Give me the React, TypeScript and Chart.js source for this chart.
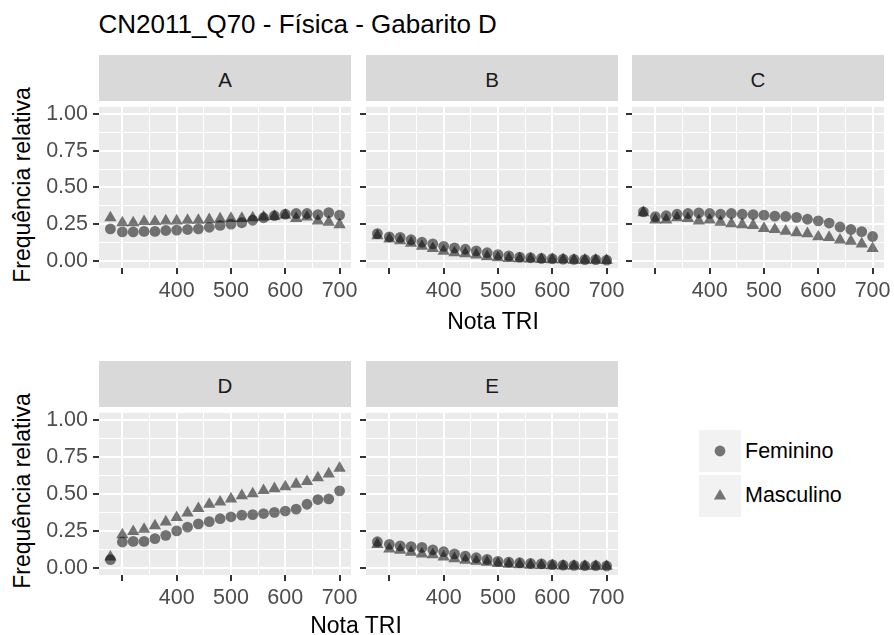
import React, { useEffect, useRef } from "react";
import { Chart, registerables } from "chart.js";

Chart.register(...registerables);

const FONT = '"Liberation Sans", Arial, Helvetica, sans-serif';

// ---------- text ----------
const chartTitle = "CN2011_Q70 - Física - Gabarito D";
const yAxisTitle = "Frequência relativa";
const xAxisTitle = "Nota TRI";
const seriesNames = ["Feminino", "Masculino"];
const panelNames = ["A", "B", "C", "D", "E"];

// ---------- axes ----------
const xGridValues = [300, 350, 400, 450, 500, 550, 600, 650, 700];
const xTickValues = [300, 400, 500, 600, 700];
const xTickLabels = ["", "400", "500", "600", "700"];
const yGridValues = [0, 0.125, 0.25, 0.375, 0.5, 0.625, 0.75, 0.875, 1];
const yTickValues = [0, 0.25, 0.5, 0.75, 1];
const yTickLabels = ["0.00", "0.25", "0.50", "0.75", "1.00"];
const xLimits = [257, 721];
const yLimits = [-0.05, 1.05];

// ---------- data ----------
const notaTRI = [278, 300, 320, 340, 360, 380, 400, 420, 440, 460, 480, 500, 520, 540, 560, 580, 600, 620, 640, 660, 680, 700];

const femininoA = [0.217, 0.196, 0.196, 0.2, 0.2, 0.206, 0.209, 0.213, 0.217, 0.228, 0.241, 0.25, 0.259, 0.276, 0.293, 0.307, 0.317, 0.322, 0.322, 0.315, 0.328, 0.311];
const masculinoA = [0.293, 0.259, 0.259, 0.267, 0.267, 0.272, 0.272, 0.276, 0.276, 0.28, 0.285, 0.289, 0.289, 0.293, 0.298, 0.302, 0.311, 0.289, 0.298, 0.272, 0.263, 0.246];

const femininoB = [0.185, 0.163, 0.159, 0.143, 0.126, 0.115, 0.098, 0.087, 0.078, 0.067, 0.054, 0.041, 0.033, 0.024, 0.02, 0.015, 0.013, 0.011, 0.009, 0.007, 0.007, 0.004];
const masculinoB = [0.17, 0.148, 0.137, 0.12, 0.098, 0.083, 0.065, 0.054, 0.048, 0.039, 0.028, 0.02, 0.015, 0.013, 0.011, 0.009, 0.007, 0.007, 0.004, 0.004, 0.004, 0.002];

const femininoC = [0.333, 0.3, 0.307, 0.317, 0.322, 0.326, 0.322, 0.317, 0.322, 0.317, 0.315, 0.311, 0.304, 0.302, 0.296, 0.283, 0.272, 0.257, 0.23, 0.213, 0.198, 0.165];
const masculinoC = [0.328, 0.278, 0.278, 0.293, 0.289, 0.272, 0.278, 0.263, 0.252, 0.246, 0.241, 0.22, 0.213, 0.202, 0.191, 0.185, 0.163, 0.159, 0.141, 0.133, 0.115, 0.083];

const femininoD = [0.054, 0.174, 0.178, 0.178, 0.197, 0.219, 0.249, 0.275, 0.297, 0.312, 0.332, 0.345, 0.356, 0.36, 0.367, 0.375, 0.384, 0.397, 0.43, 0.462, 0.466, 0.521];
const masculinoD = [0.072, 0.223, 0.245, 0.26, 0.284, 0.31, 0.34, 0.371, 0.401, 0.43, 0.445, 0.466, 0.488, 0.501, 0.523, 0.536, 0.549, 0.566, 0.584, 0.61, 0.636, 0.675];

const femininoE = [0.176, 0.158, 0.148, 0.143, 0.137, 0.121, 0.108, 0.093, 0.078, 0.067, 0.056, 0.043, 0.037, 0.033, 0.028, 0.026, 0.02, 0.017, 0.015, 0.013, 0.013, 0.011];
const masculinoE = [0.158, 0.126, 0.119, 0.104, 0.093, 0.087, 0.072, 0.061, 0.05, 0.043, 0.037, 0.028, 0.024, 0.02, 0.017, 0.015, 0.013, 0.011, 0.011, 0.009, 0.009, 0.009];

// ---------- layout (pixels) ----------
const PANEL_W = 252;
const COL_LEFT = [99, 366, 632];
const ROWS = [
  { stripTop: 55, panelTop: 101, panelH: 167 },
  { stripTop: 361, panelTop: 407, panelH: 168 },
];
const PAD_L = 60;
const PAD_T = 12;
const PAD_R = 24;
const PAD_B = 44;

const POINT_COLOR = "rgba(0,0,0,0.52)";
const TICK_COLOR = "#4d4d4d";
const TICK_FONT = 21.5;

const panels = [
  { name: panelNames[0], fem: femininoA, masc: masculinoA, row: 0, col: 0 },
  { name: panelNames[1], fem: femininoB, masc: masculinoB, row: 0, col: 1 },
  { name: panelNames[2], fem: femininoC, masc: masculinoC, row: 0, col: 2 },
  { name: panelNames[3], fem: femininoD, masc: masculinoD, row: 1, col: 0 },
  { name: panelNames[4], fem: femininoE, masc: masculinoE, row: 1, col: 1 },
];

const panelBg = {
  id: "panelBg",
  beforeDraw(chart: any) {
    const { ctx, chartArea: a } = chart;
    ctx.save();
    ctx.fillStyle = "#ebebeb";
    ctx.fillRect(a.left, a.top, a.right - a.left, a.bottom - a.top);
    ctx.restore();
  },
};

const isIn = (arr: number[], v: number) => arr.some((t) => Math.abs(t - v) < 1e-9);

function Panel({ fem, masc, showY, left, top, panelH }: any) {
  const ref = useRef<HTMLCanvasElement>(null);
  const W = PAD_L + PANEL_W + PAD_R;
  const H = PAD_T + panelH + PAD_B;
  useEffect(() => {
    const toPts = (vals: number[]) => notaTRI.map((x, i) => ({ x, y: vals[i] }));
    const chart = new Chart(ref.current as HTMLCanvasElement, {
      type: "scatter",
      data: {
        datasets: [
          {
            label: seriesNames[0],
            data: toPts(fem),
            pointStyle: "circle",
            pointRadius: 5.4,
            backgroundColor: POINT_COLOR,
            borderWidth: 0,
          },
          {
            label: seriesNames[1],
            data: toPts(masc),
            pointStyle: "triangle",
            pointRadius: 7.1,
            backgroundColor: POINT_COLOR,
            borderWidth: 0,
          },
        ],
      },
      options: {
        responsive: false,
        animation: false,
        devicePixelRatio: 1,
        events: [],
        layout: { padding: { top: PAD_T, right: PAD_R, left: 0, bottom: 0 } },
        plugins: { legend: { display: false }, tooltip: { enabled: false } },
        scales: {
          x: {
            type: "linear",
            min: xLimits[0],
            max: xLimits[1],
            afterBuildTicks: (s: any) => {
              s.ticks = xGridValues.map((v) => ({ value: v }));
            },
            afterFit: (s: any) => {
              s.height = PAD_B;
            },
            border: { display: false },
            grid: {
              color: "#ffffff",
              lineWidth: (c: any) => (isIn(xTickValues, c.tick.value) ? 2 : 1),
              tickColor: (c: any) => (isIn(xTickValues, c.tick.value) ? "#333333" : "rgba(0,0,0,0)"),
              tickLength: 6,
              tickWidth: 2,
            },
            ticks: {
              autoSkip: false,
              maxRotation: 0,
              padding: 4,
              color: TICK_COLOR,
              font: { family: FONT, size: TICK_FONT },
              callback: (v: any) => {
                const i = xTickValues.findIndex((t) => Math.abs(t - v) < 1e-9);
                return i >= 0 ? xTickLabels[i] : "";
              },
            },
          },
          y: {
            type: "linear",
            min: yLimits[0],
            max: yLimits[1],
            afterBuildTicks: (s: any) => {
              s.ticks = yGridValues.map((v) => ({ value: v }));
            },
            afterFit: (s: any) => {
              s.width = PAD_L;
            },
            border: { display: false },
            grid: {
              color: "#ffffff",
              lineWidth: (c: any) => (isIn(yTickValues, c.tick.value) ? 2 : 1),
              tickColor: (c: any) => (isIn(yTickValues, c.tick.value) ? "#333333" : "rgba(0,0,0,0)"),
              tickLength: 6,
              tickWidth: 2,
            },
            ticks: {
              autoSkip: false,
              padding: 5,
              color: TICK_COLOR,
              font: { family: FONT, size: TICK_FONT },
              callback: (v: any) => {
                if (!showY) return "";
                const i = yTickValues.findIndex((t) => Math.abs(t - v) < 1e-9);
                return i >= 0 ? yTickLabels[i] : "";
              },
            },
          },
        },
      },
      plugins: [panelBg],
    } as any);
    return () => chart.destroy();
  }, []);
  return (
    <canvas
      ref={ref}
      width={W}
      height={H}
      style={{ position: "absolute", left, top, width: W, height: H }}
    />
  );
}

function Txt({ x, baseline, size, color = "#000", align = "left", children }: any) {
  return (
    <div
      style={{
        position: "absolute",
        left: x,
        top: baseline - 0.8465 * size,
        fontFamily: FONT,
        fontSize: size,
        lineHeight: `${size}px`,
        color,
        whiteSpace: "nowrap",
        transform: align === "center" ? "translateX(-50%)" : undefined,
      }}
    >
      {children}
    </div>
  );
}

function VTxt({ cx, cy, size, children }: any) {
  return (
    <div
      style={{
        position: "absolute",
        left: cx,
        top: cy,
        fontFamily: FONT,
        fontSize: size,
        lineHeight: `${size}px`,
        color: "#000",
        whiteSpace: "nowrap",
        transform: "translate(-50%, -50%) rotate(-90deg)",
      }}
    >
      {children}
    </div>
  );
}

export default function App() {
  return (
    <div
      style={{
        position: "absolute",
        left: 0,
        top: 0,
        width: 894,
        height: 635,
        background: "#ffffff",
        overflow: "hidden",
      }}
    >
      <Txt x={98.5} baseline={33.3} size={26}>
        {chartTitle}
      </Txt>

      {panels.map((p) => {
        const r = ROWS[p.row];
        return (
          <React.Fragment key={p.name}>
            <div
              style={{
                position: "absolute",
                left: COL_LEFT[p.col],
                top: r.stripTop,
                width: PANEL_W,
                height: r.panelTop - r.stripTop,
                background: "#d9d9d9",
              }}
            />
            <Txt x={COL_LEFT[p.col] + PANEL_W / 2} baseline={r.stripTop + 32} size={20.5} color="#1a1a1a" align="center">
              {p.name}
            </Txt>
          </React.Fragment>
        );
      })}

      {panels.map((p) => {
        const r = ROWS[p.row];
        return (
          <Panel
            key={"c" + p.name}
            fem={p.fem}
            masc={p.masc}
            showY={p.col === 0}
            left={COL_LEFT[p.col] - PAD_L}
            top={r.panelTop - PAD_T}
            panelH={r.panelH}
          />
        );
      })}

      <VTxt cx={22} cy={184.5} size={23}>{yAxisTitle}</VTxt>
      <VTxt cx={22} cy={491} size={23}>{yAxisTitle}</VTxt>

      <Txt x={493} baseline={329} size={23} align="center">{xAxisTitle}</Txt>
      <Txt x={356} baseline={633} size={23} align="center">{xAxisTitle}</Txt>

      {/* legend */}
      <div style={{ position: "absolute", left: 699, top: 430, width: 42, height: 42, background: "#f2f2f2" }}>
        <svg width={42} height={42}>
          <circle cx={21} cy={21} r={5.4} fill={POINT_COLOR} />
        </svg>
      </div>
      <div style={{ position: "absolute", left: 699, top: 475, width: 42, height: 42, background: "#f2f2f2" }}>
        <svg width={42} height={42}>
          <polygon points="21,14 14.85,24.55 27.15,24.55" fill={POINT_COLOR} />
        </svg>
      </div>
      <Txt x={745} baseline={459} size={21.5}>{seriesNames[0]}</Txt>
      <Txt x={745} baseline={503.3} size={21.5}>{seriesNames[1]}</Txt>
    </div>
  );
}
